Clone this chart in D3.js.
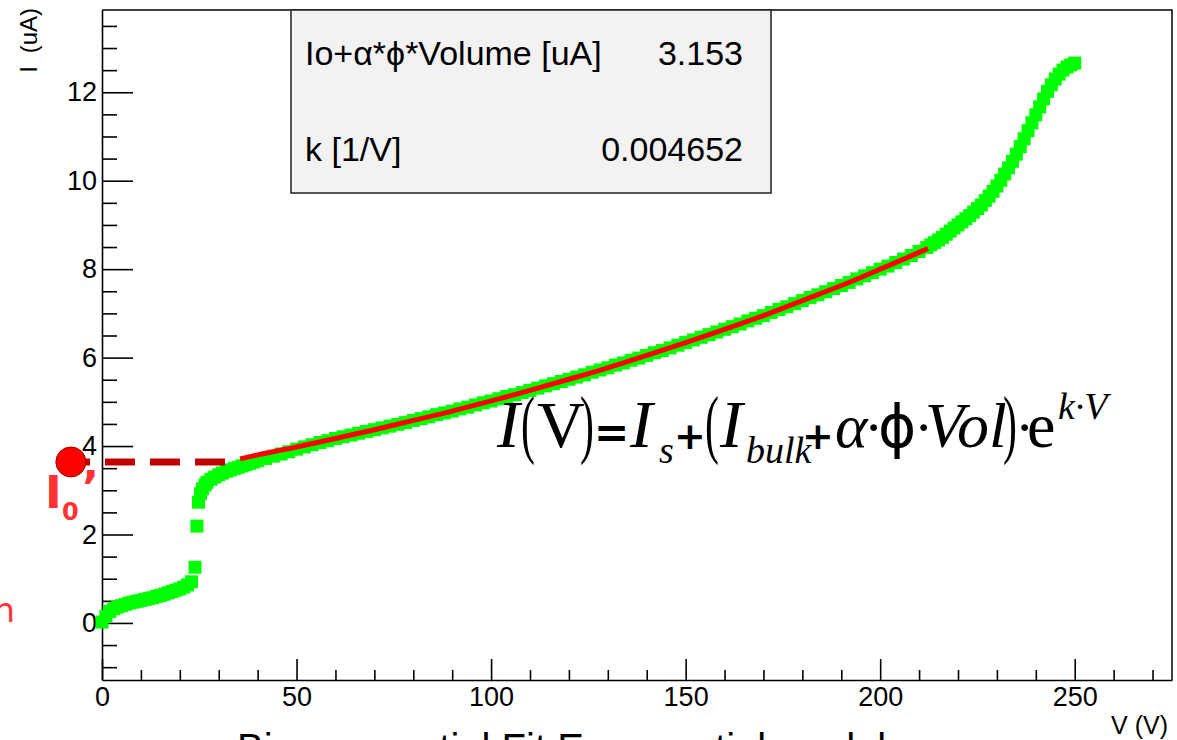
<!DOCTYPE html>
<html><head><meta charset="utf-8">
<script src="https://cdn.jsdelivr.net/npm/d3@7"></script>
<style>body{margin:0;background:#fff}svg{display:block}</style>
</head><body>
<svg id="c" width="1177" height="740"></svg>
<script>
// ---------- data ----------
const riseV = [0,1,2,3,4,5,6,7,8,9,10,11,12,13,14,15,16,17,18,19,20,21,22,23,23.9,24.4,24.8,25.3,25.8,26.5,27,28,29,30,31,32,33,34,35,36,37,38,39,40];
const riseI = [0.02,0.15,0.26,0.32,0.36,0.39,0.42,0.45,0.47,0.49,0.51,0.53,0.55,0.57,0.60,0.62,0.65,0.68,0.71,0.74,0.77,0.81,0.86,0.93,1.26,2.19,2.73,2.92,3.03,3.12,3.18,3.25,3.30,3.35,3.39,3.43,3.46,3.49,3.52,3.55,3.58,3.61,3.64,3.67];
const bulkV = [42,44,46,48,50,52,54,56,58,60,62,64,66,68,70,72,74,76,78,80,82,84,86,88,90,92,94,96,98,100,102,104,106,108,110,112,114,116,118,120,122,124,126,128,130,132,134,136,138,140,142,144,146,148,150,152,154,156,158,160,162,164,166,168,170,172,174,176,178,180,182,184,186,188,190,192,194,196,198,200,202,204,206,208,210,212];
const bulkI = [3.72,3.77,3.82,3.87,3.93,3.98,4.03,4.08,4.12,4.17,4.21,4.25,4.29,4.33,4.37,4.41,4.45,4.49,4.53,4.58,4.62,4.66,4.71,4.75,4.79,4.84,4.88,4.93,4.98,5.02,5.07,5.12,5.16,5.21,5.26,5.31,5.36,5.41,5.46,5.51,5.56,5.61,5.67,5.72,5.77,5.83,5.88,5.94,5.99,6.05,6.11,6.16,6.22,6.28,6.34,6.40,6.46,6.52,6.58,6.64,6.70,6.76,6.83,6.89,6.95,7.02,7.09,7.15,7.22,7.29,7.36,7.42,7.49,7.56,7.63,7.70,7.78,7.85,7.92,8.00,8.07,8.15,8.23,8.31,8.40,8.49];
const breakV = [213,214,215,216,217,218,219,220,221,222,223,224,225,226,227,228,229,230,231,232,233,234,235,236,237,238,239,240,241,242,243,244,245,246,247,248,249,250];
const breakI = [8.55,8.60,8.66,8.72,8.79,8.86,8.93,9.00,9.07,9.14,9.21,9.29,9.37,9.45,9.55,9.65,9.76,9.88,10.01,10.15,10.29,10.44,10.60,10.77,10.95,11.13,11.31,11.49,11.67,11.85,12.02,12.17,12.30,12.41,12.50,12.57,12.62,12.66];
const fitV = [35.5,40,50,60,70,80,90,100,110,120,130,140,150,160,170,180,190,200,210,212.3];
const fitI = [3.71,3.80,3.98,4.17,4.37,4.58,4.79,5.02,5.26,5.51,5.77,6.05,6.34,6.64,6.95,7.29,7.63,8.00,8.38,8.47];
const xMajorTicks = [0,50,100,150,200,250];
const xMinorTicks = [10,20,30,40,60,70,80,90,110,120,130,140,160,170,180,190,210,220,230,240,260,270];
const yMajorTicks = [0,2,4,6,8,10,12];
const yMinorTicks = [-1,-0.5,0.5,1,1.5,2.5,3,3.5,4.5,5,5.5,6.5,7,7.5,8.5,9,9.5,10.5,11,11.5,12.5,13,13.5];
const statLabels = ["Io+\u03B1*\u03D5*Volume [uA]", "k [1/V]"];
const statValues = ["3.153", "0.004652"];
const i0Level = 3.64;       // I0' marker level (uA)
const i0DotV = -8.0;        // marker position (V)
const dashRangeV = [-10.8, 35.2];

// ---------- setup ----------
const svg = d3.select("#c");
const font = "'Liberation Sans', Arial, sans-serif";
const x = d3.scaleLinear().domain([0, 275]).range([102, 1172]);
const y = d3.scaleLinear().domain([-1.29, 13.86]).range([680, 10]);

// frame
svg.append("path")
  .attr("d", `M${x(0)},${y(13.86)}H${x(275)}V${y(-1.29)}`)
  .attr("fill","none").attr("stroke","#000").attr("stroke-width",1.5);

// axes
function styleAxis(g){ g.select(".domain").attr("stroke","#000").attr("stroke-width",1.6);
  g.selectAll(".tick line").attr("stroke","#000").attr("stroke-width",1.6);
  g.selectAll("text").attr("font-family",font).attr("font-size",27).attr("fill","#000"); }

const xAxis = svg.append("g").attr("transform",`translate(0,${y(-1.29)})`)
  .call(d3.axisBottom(x).tickValues(xMajorTicks).tickSize(-21).tickSizeOuter(0).tickPadding(7).tickFormat(d3.format("d")));
styleAxis(xAxis);
const xMinor = svg.append("g").attr("transform",`translate(0,${y(-1.29)})`)
  .call(d3.axisBottom(x).tickValues(xMinorTicks).tickSize(-10).tickSizeOuter(0).tickFormat(""));
styleAxis(xMinor); xMinor.select(".domain").remove();

const yAxis = svg.append("g").attr("transform",`translate(${x(0)},0)`)
  .call(d3.axisLeft(y).tickValues(yMajorTicks).tickSize(-31).tickSizeOuter(0).tickPadding(5).tickFormat(d3.format("d")));
styleAxis(yAxis);
const yMinor = svg.append("g").attr("transform",`translate(${x(0)},0)`)
  .call(d3.axisLeft(y).tickValues(yMinorTicks).tickSize(-15).tickSizeOuter(0).tickFormat(""));
styleAxis(yMinor); yMinor.select(".domain").remove();

// axis titles
svg.append("text").attr("x",1168).attr("y",734).attr("text-anchor","end")
  .attr("font-family",font).attr("font-size",25).text("V (V)");
svg.append("text").attr("transform","translate(37,8) rotate(-90)").attr("text-anchor","end")
  .attr("font-family",font).attr("font-size",24).attr("word-spacing",6).text("I (uA)");

// green data markers
const green = d3.zip(riseV, riseI).concat(d3.zip(bulkV, bulkI), d3.zip(breakV, breakI));
const ms = 13;
svg.append("g").selectAll("rect").data(green).join("rect")
  .attr("x", d => x(d[0]) - ms/2).attr("y", d => y(d[1]) - ms/2)
  .attr("width", ms).attr("height", ms).attr("fill", "#00ff00");

// red fit
svg.append("path").datum(d3.zip(fitV, fitI))
  .attr("d", d3.line().x(d=>x(d[0])).y(d=>y(d[1])).curve(d3.curveMonotoneX))
  .attr("fill","none").attr("stroke","#ff0000").attr("stroke-width",5);

// stats box
const bx = 291, by = 10, bw = 480, bh = 183;
svg.append("rect").attr("x",bx).attr("y",by).attr("width",bw).attr("height",bh)
  .attr("fill","#f2f2f2").attr("stroke","#222").attr("stroke-width",1.5);
statLabels.forEach((t,i)=>{
  svg.append("text").attr("x",bx+14).attr("y",65+i*96).attr("font-family",font).attr("font-size",34).text(t);
  svg.append("text").attr("x",bx+452).attr("y",65+i*96).attr("text-anchor","end").attr("font-family",font).attr("font-size",34).text(statValues[i]);
});

// I0' annotation
svg.append("line").attr("x1",x(dashRangeV[0])).attr("x2",x(dashRangeV[1]))
  .attr("y1",y(i0Level)).attr("y2",y(i0Level))
  .attr("stroke","#c00000").attr("stroke-width",7).attr("stroke-dasharray","30,15");
svg.append("circle").attr("cx",x(i0DotV)).attr("cy",y(i0Level)).attr("r",15)
  .attr("fill","#ff0000").attr("stroke","#a00000").attr("stroke-width",1);
const lab = svg.append("text").attr("font-family","'DejaVu Sans', sans-serif").attr("font-weight","bold").attr("fill","#ff3333");
lab.append("tspan").attr("x",45).attr("y",508).attr("font-size",45).text("I");
lab.append("tspan").attr("x",62).attr("y",520).attr("font-size",24).text("0");
lab.append("tspan").attr("x",82).attr("y",503).attr("font-size",45).text("\u2019");
svg.append("text").attr("x",15).attr("y",622).attr("text-anchor","end")
  .attr("font-family","'DejaVu Sans', sans-serif").attr("font-size",34).attr("fill","#ff3333").text("n");

// formula
const serif = "'Liberation Serif', 'DejaVu Serif', serif";
const sans = "'DejaVu Sans', sans-serif";
const F = [
  {t:"I", x:497, y:447, s:68, it:1},
  {t:"V", x:537, y:447, s:66},
  {t:"=", x:594, y:447, s:42, f:sans, b:1},
  {t:"I", x:630, y:447, s:68, it:1},
  {t:"s", x:659, y:463, s:38, it:1},
  {t:"+", x:674, y:449, s:38, f:sans, b:1},
  {t:"I", x:720, y:447, s:68, it:1},
  {t:"bulk", x:746, y:463, s:38, it:1},
  {t:"+", x:802, y:449, s:38, f:sans, b:1},
  {t:"\u03B1", x:835, y:447, s:62, it:1},
  {t:"\u00B7", x:864, y:447, s:58},
  {t:"\u03D5", x:878, y:447, s:58, f:sans},
  {t:"\u00B7", x:914, y:447, s:58},
  {t:"Vol", x:925, y:447, s:64, it:1},
  {t:"\u00B7", x:1015, y:447, s:58},
  {t:"e", x:1027, y:447, s:64},
  {t:"k\u00B7V", x:1058, y:419, s:38, it:1}
];
svg.append("g").selectAll("text").data(F).join("text")
  .attr("x",d=>d.x).attr("y",d=>d.y).attr("font-size",d=>d.s)
  .attr("font-style",d=>d.it?"italic":"normal")
  .attr("font-weight",d=>d.b?"bold":"normal")
  .attr("font-family",d=>d.f||serif).attr("fill","#000").text(d=>d.t);
// tall thin parentheses
const P = [{t:"(", x:521},{t:")", x:580},{t:"(", x:705},{t:")", x:1003}];
svg.append("g").selectAll("text").data(P).join("text")
  .attr("transform",d=>`translate(${d.x},449) scale(0.55,1)`)
  .attr("font-size",76).attr("font-family",serif).attr("fill","#000").text(d=>d.t);

// cut-off caption at bottom
svg.append("text").attr("x",237).attr("y",762).attr("font-family",font).attr("font-size",40)
  .text("Bi-exponential Fit Exponential model");
</script>
</body></html>
